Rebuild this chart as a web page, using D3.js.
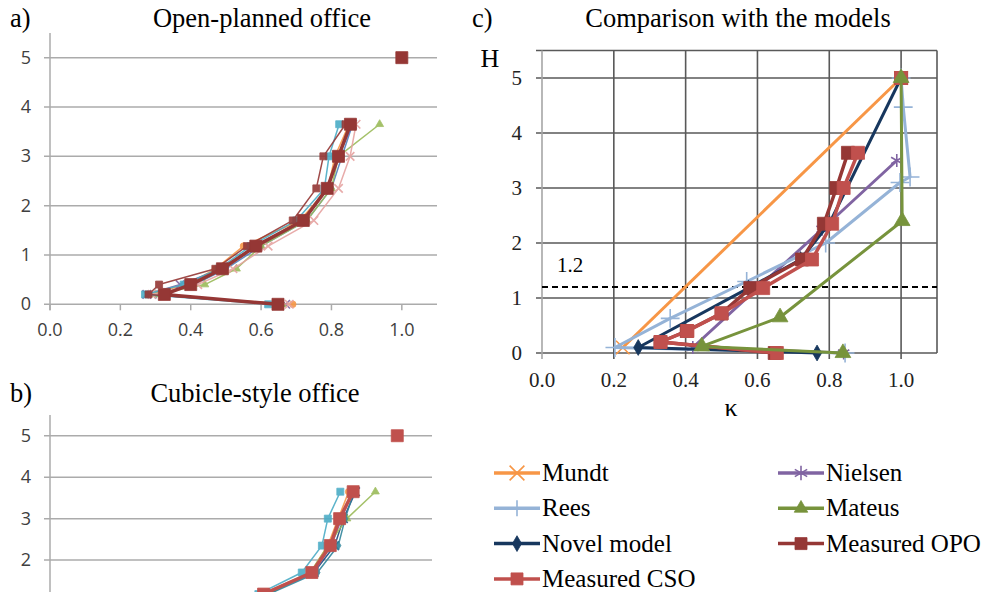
<!DOCTYPE html>
<html>
<head>
<meta charset="utf-8">
<script src="https://cdn.jsdelivr.net/npm/d3@7"></script>
<style>
  body { margin: 0; background: #fff; }
  svg { display: block; }
  .sans { font-family: "Open Sans", "Liberation Sans", sans-serif; }
</style>
</head>
<body>
<svg id="fig" width="982" height="592"></svg>
<script>
// ---------------- data ----------------
const kappaTicks = [0, 0.2, 0.4, 0.6, 0.8, 1.0];
const hTicks = [0, 1, 2, 3, 4, 5];

// measuring heights (panels a and b), plus the ceiling point at H = 5
const hMeas = [0, 0.2, 0.4, 0.72, 1.18, 1.7, 2.35, 3.0, 3.65];
const hTop = 5;

// a) open-planned office: average and single runs (kappa at each hMeas)
const opoAvg = [0.648, 0.325, 0.40, 0.49, 0.585, 0.72, 0.788, 0.82, 0.854];
const opoAvgTop = 1.0;
const opoRuns = [
  [0.66, 0.30, 0.41, 0.50, 0.60, 0.73, 0.80, 0.83, 0.86],
  [0.69, 0.28, 0.39, 0.47, 0.55, 0.71, 0.79, 0.81, 0.85],
  [0.67, 0.275, 0.37, 0.49, 0.58, 0.72, 0.79, 0.82, 0.86],
  [0.66, 0.30, 0.44, 0.53, 0.60, 0.73, 0.80, 0.82, 0.937],
  [0.68, 0.29, 0.42, 0.52, 0.62, 0.75, 0.82, 0.853, 0.87],
  [0.62, 0.27, 0.38, 0.48, 0.57, 0.70, 0.78, 0.793, 0.822],
  [0.65, 0.28, 0.31, 0.47, 0.56, 0.69, 0.757, 0.777, 0.84]
];
const opoRunColors = ["#4F81BD", "#F79646", "#8064A2", "#9BBB59", "#E6A3A1", "#4BACC6", "#953735"];
const opoRunMarkers = ["diamond", "circle", "times", "triangle", "times", "square", "square"];

// b) cubicle-style office
const csoAvg = [0.654, 0.32, 0.405, 0.50, 0.615, 0.754, 0.807, 0.834, 0.873];
const csoAvgTop = 1.0;
const csoRuns = [
  [0.66, 0.30, 0.41, 0.51, 0.62, 0.76, 0.82, 0.845, 0.88],
  [0.69, 0.29, 0.40, 0.49, 0.61, 0.75, 0.80, 0.83, 0.86],
  [0.67, 0.28, 0.39, 0.50, 0.62, 0.76, 0.81, 0.84, 0.87],
  [0.66, 0.31, 0.43, 0.53, 0.63, 0.75, 0.80, 0.855, 0.937],
  [0.64, 0.28, 0.38, 0.49, 0.60, 0.725, 0.783, 0.80, 0.836],
  [0.68, 0.30, 0.41, 0.51, 0.63, 0.77, 0.83, 0.85, 0.875]
];
const csoRunColors = ["#1F497D", "#F79646", "#8064A2", "#9BBB59", "#4BACC6", "#31859C"];
const csoRunMarkers = ["times", "circle", "times", "triangle", "square", "diamond"];

// c) comparison with the models
const mundtK = [0.225, 1.0];
const mundtH = [0.1, 5.0];
const nielsenK = [0.84, 0.42, 0.60, 0.78, 0.988];
const nielsenH = [0, 0.1, 1.18, 2.25, 3.5];
const reesK = [0.844, 0.203, 0.357, 0.57, 0.79, 0.997, 1.025, 1.006, 1.0];
const reesH = [0, 0.1, 0.63, 1.3, 2.0, 3.1, 3.2, 4.47, 5.0];
const mateusK = [0.838, 0.445, 0.663, 1.003, 1.0];
const mateusH = [0, 0.12, 0.65, 2.4, 5.0];
const novelK = [0.766, 0.268, 0.575, 0.72, 0.80, 1.0];
const novelH = [0, 0.1, 1.18, 1.7, 2.35, 5.0];
const measOpoK = [0.648, 0.33, 0.403, 0.50, 0.58, 0.724, 0.785, 0.82, 0.852, null, 1.0];
const measCsoK = [0.654, 0.33, 0.405, 0.50, 0.616, 0.752, 0.808, 0.84, 0.88, null, 1.0];
const measH = [0, 0.2, 0.4, 0.72, 1.18, 1.7, 2.35, 3.0, 3.64, null, 5.0];
const hLimit = 1.2;

const legendNames = ["Mundt", "Nielsen", "Rees", "Mateus", "Novel model", "Measured OPO", "Measured CSO"];
const legendColors = ["#F79646", "#8064A2", "#95B3D7", "#77933C", "#17375E", "#953735", "#C0504D"];
const legendMarkers = ["times", "asterisk", "plus", "triangle", "diamond", "square", "square"];

// ---------------- drawing ----------------
const W = 982, H = 592;
const svg = d3.select("#fig");
const SERIF = "'Liberation Serif', 'Times New Roman', serif";

function zip(ks, hs) {
  return ks.map((k, i) => (k == null || hs[i] == null) ? null : [k, hs[i]]);
}

function drawMarker(g, type, cx, cy, size, color) {
  let sym, stroked = false, area = size * size;
  switch (type) {
    case "square": sym = d3.symbolSquare; break;
    case "triangle": sym = d3.symbolTriangle; area = size * size * 0.55; break;
    case "diamond": sym = d3.symbolDiamond; area = size * size * 0.5; break;
    case "circle": sym = d3.symbolCircle; area = size * size * 0.7; break;
    case "times": sym = d3.symbolTimes; stroked = true; break;
    case "plus": sym = d3.symbolPlus; stroked = true; area = size * size * 0.6; break;
    case "asterisk": sym = d3.symbolAsterisk; stroked = true; break;
  }
  const p = g.append("path")
    .attr("transform", `translate(${cx},${cy})`)
    .attr("d", d3.symbol(sym, area)());
  if (stroked) p.attr("fill", "none").attr("stroke", color).attr("stroke-width", 1.6);
  else p.attr("fill", color).attr("stroke", color).attr("stroke-width", 0.8);
}

function drawSeries(g, x, y, pts, color, marker, lw, msize, opacity) {
  const s = g.append("g").attr("opacity", opacity || 1);
  const line = d3.line().defined(d => d != null).x(d => x(d[0])).y(d => y(d[1]));
  s.append("path").datum(pts)
    .attr("d", line)
    .attr("fill", "none")
    .attr("stroke", color)
    .attr("stroke-width", lw)
    .attr("stroke-linejoin", "round");
  pts.filter(d => d != null).forEach(d => drawMarker(s, marker, x(d[0]), y(d[1]), msize, color));
}

// excel-like panel for a) and b)
function drawSmallPanel(left, right, top, bottom, avg, avgTop, avgColor, runs, runColors, runMarkers) {
  const x = d3.scaleLinear().domain([0, 1.1]).range([left, right]);
  const y = d3.scaleLinear().domain([0, 5.5]).range([bottom, top]);
  const g = svg.append("g");

  // horizontal grid
  g.append("g").selectAll("line").data(hTicks).join("line")
    .attr("x1", left - 6).attr("x2", right)
    .attr("y1", d => y(d)).attr("y2", d => y(d))
    .attr("stroke", "#ABABAB").attr("stroke-width", 1.5);
  // y axis line
  g.append("line").attr("x1", left).attr("x2", left)
    .attr("y1", top).attr("y2", bottom + 6)
    .attr("stroke", "#ABABAB").attr("stroke-width", 1.5);
  // x ticks
  g.append("g").selectAll("line").data(kappaTicks).join("line")
    .attr("x1", d => x(d)).attr("x2", d => x(d))
    .attr("y1", bottom).attr("y2", bottom + 6)
    .attr("stroke", "#ABABAB").attr("stroke-width", 1.5);

  // labels only where they fall inside the picture
  g.append("g").selectAll("text").data(hTicks.filter(d => y(d) + 8 < H)).join("text")
    .attr("class", "sans")
    .attr("x", left - 19).attr("y", d => y(d) + 6)
    .attr("text-anchor", "end")
    .attr("font-size", 18).attr("fill", "#404040")
    .text(d => d);
  g.append("g").selectAll("text").data(bottom + 34 < H ? kappaTicks : []).join("text")
    .attr("class", "sans")
    .attr("x", d => x(d)).attr("y", bottom + 32)
    .attr("text-anchor", "middle")
    .attr("font-size", 18).attr("fill", "#404040")
    .text(d => d.toFixed(1));

  runs.forEach((r, i) => drawSeries(g, x, y, zip(r, hMeas), runColors[i], runMarkers[i], 1.5, 7, 0.9));
  drawSeries(g, x, y, zip(avg, hMeas), avgColor, "square", 3.5, 12);
  drawMarker(g, "square", x(avgTop), y(hTop), 12, avgColor);
}

drawSmallPanel(50, 437, 33, 304.3, opoAvg, opoAvgTop, "#953735", opoRuns, opoRunColors, opoRunMarkers);
drawSmallPanel(50, 432, 415, 643, csoAvg, csoAvgTop, "#C0504D", csoRuns, csoRunColors, csoRunMarkers);

// panel c
{
  const left = 542, right = 937, top = 50.5, bottom = 353;
  const x = d3.scaleLinear().domain([0, 1.1]).range([left, right]);
  const y = d3.scaleLinear().domain([0, 5.5]).range([bottom, top]);
  const g = svg.append("g");
  const gridColor = "#595959";

  g.append("g").selectAll("line").data(hTicks.concat([5.5])).join("line")
    .attr("x1", left - 6).attr("x2", right)
    .attr("y1", d => y(d)).attr("y2", d => y(d))
    .attr("stroke", gridColor).attr("stroke-width", 1.6);
  g.append("g").selectAll("line").data(kappaTicks.concat([1.1])).join("line")
    .attr("x1", d => x(d)).attr("x2", d => x(d))
    .attr("y1", top).attr("y2", d => d > 1.05 ? bottom : bottom + 6)
    .attr("stroke", d => d === 0 ? "#A6A6A6" : gridColor).attr("stroke-width", 1.6);

  g.append("g").selectAll("text").data(hTicks).join("text")
    .attr("x", left - 20).attr("y", d => y(d) + 7)
    .attr("text-anchor", "end")
    .attr("font-family", SERIF).attr("font-size", 21).attr("fill", "#222")
    .text(d => d);
  g.append("g").selectAll("text").data(kappaTicks).join("text")
    .attr("x", d => x(d)).attr("y", bottom + 34)
    .attr("text-anchor", "middle")
    .attr("font-family", SERIF).attr("font-size", 21).attr("fill", "#222")
    .text(d => d.toFixed(1));

  g.append("text").attr("x", 490).attr("y", 67).attr("text-anchor", "middle")
    .attr("font-family", SERIF).attr("font-size", 26).text("H");
  g.append("text").attr("x", 731).attr("y", 416).attr("text-anchor", "middle")
    .attr("font-family", SERIF).attr("font-size", 26).text("κ");

  // limit line
  g.append("line").attr("x1", left).attr("x2", right)
    .attr("y1", y(hLimit)).attr("y2", y(hLimit))
    .attr("stroke", "#000").attr("stroke-width", 2).attr("stroke-dasharray", "6,4");
  g.append("text").attr("x", 557).attr("y", 272)
    .attr("font-family", SERIF).attr("font-size", 21).text(hLimit.toFixed(1));

  drawSeries(g, x, y, zip(mundtK, mundtH), legendColors[0], legendMarkers[0], 3, 11);
  drawSeries(g, x, y, zip(nielsenK, nielsenH), legendColors[1], legendMarkers[1], 3, 11);
  drawSeries(g, x, y, zip(reesK, reesH), legendColors[2], legendMarkers[2], 3, 14);
  drawSeries(g, x, y, zip(novelK, novelH), legendColors[4], legendMarkers[4], 3, 12);
  drawSeries(g, x, y, zip(measOpoK, measH), legendColors[5], legendMarkers[5], 3.5, 13);
  drawSeries(g, x, y, zip(measCsoK, measH), legendColors[6], legendMarkers[6], 3.5, 13);
  drawSeries(g, x, y, zip(mateusK, mateusH), legendColors[3], legendMarkers[3], 3, 14);

  // legend, two columns filled row by row
  const lg = svg.append("g");
  legendNames.forEach((name, i) => {
    const col = i % 2, row = Math.floor(i / 2);
    const lx = col === 0 ? 494 : 778;
    const ly = 473 + row * 35.3;
    lg.append("line").attr("x1", lx).attr("x2", lx + 46)
      .attr("y1", ly).attr("y2", ly)
      .attr("stroke", legendColors[i]).attr("stroke-width", 3.5);
    drawMarker(lg, legendMarkers[i], lx + 23, ly, 12, legendColors[i]);
    lg.append("text").attr("x", lx + 48).attr("y", ly + 8)
      .attr("font-family", SERIF).attr("font-size", 25).text(name);
  });
}

// titles
const titles = [
  {lab: "a)", x: 10, y: 27, t: "Open-planned office", tx: 262},
  {lab: "b)", x: 10, y: 402, t: "Cubicle-style office", tx: 255},
  {lab: "c)", x: 472, y: 27, t: "Comparison with the models", tx: 738}
];
titles.forEach(d => {
  svg.append("text").attr("x", d.x).attr("y", d.y)
    .attr("font-family", SERIF).attr("font-size", 26.5).text(d.lab);
  svg.append("text").attr("x", d.tx).attr("y", d.y).attr("text-anchor", "middle")
    .attr("font-family", SERIF).attr("font-size", 26.5).text(d.t);
});
</script>
</body>
</html>
